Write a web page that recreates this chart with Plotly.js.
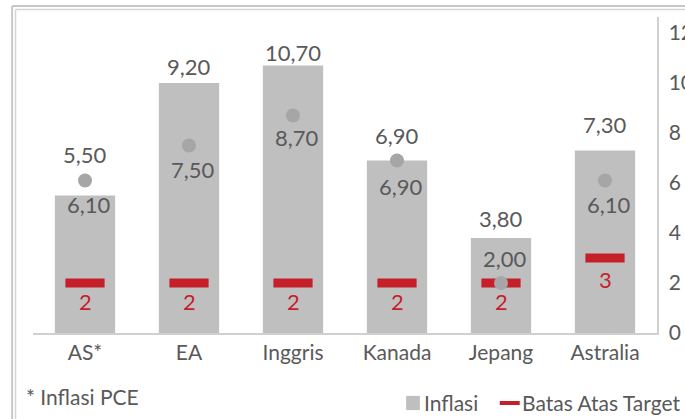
<!DOCTYPE html>
<html>
<head>
<meta charset="utf-8">
<script src="https://cdn.plot.ly/plotly-3.0.1.min.js"></script>
<style>html,body{margin:0;padding:0;background:#fff;}#chart{width:685px;height:419px;}</style>
</head>
<body>
<div id="chart"></div>
<script>
// ---- data ----
const categories = ['AS*', 'EA', 'Inggris', 'Kanada', 'Jepang', 'Astralia'];
const inflasi = [5.5, 10.0, 10.7, 6.9, 3.8, 7.3];            // bar heights as drawn
const inflasiLabels = ['5,50', '9,20', '10,70', '6,90', '3,80', '7,30']; // printed labels
const inflasiLain = [6.1, 7.5, 8.7, 6.9, 2.0, 6.1];          // grey dots
const batasAtas = [2, 2, 2, 2, 2, 3];                        // red dashes
const yTicks = [0, 2, 4, 6, 8, 10, 12];
const seriesNames = ['Inflasi', 'Batas Atas Target'];
const footnote = '* Inflasi PCE';

// ---- styles ----
const GREY_TXT = '#595959';
const BAR = '#BFBFBF';
const DOT = '#A6A6A6';
const RED = '#C51F2A';
const FONT = 'Lato, "Open Sans", sans-serif';
const barLabelShift = [41, 17, 13, 25, 20, 26];
const dotLabelShift = [-24, -24, -22, -26, 25, -24];
const redLabelShift = [-18, -18, -18, -18, -18, -21];

const fmt = v => v.toFixed(2).replace('.', ',');

const traces = [
  {type: 'bar', x: categories, y: inflasi, name: seriesNames[0], marker: {color: BAR}, width: 0.58, hoverinfo: 'none'},
  {type: 'scatter', mode: 'markers', x: categories, y: batasAtas, name: seriesNames[1],
   marker: {symbol: 'line-ew', size: 28, color: RED, line: {color: RED, width: 9}}, hoverinfo: 'none'},
  {type: 'scatter', mode: 'markers', x: categories, y: inflasiLain, marker: {color: DOT, size: 14, symbol: 'circle'}, hoverinfo: 'none'}
];

const annotations = [];
categories.forEach((c, i) => {
  annotations.push({x: c, y: inflasi[i], text: inflasiLabels[i], showarrow: false, yshift: barLabelShift[i],
    font: {family: FONT, size: 22, color: GREY_TXT}});
  annotations.push({x: c, y: inflasiLain[i], text: fmt(inflasiLain[i]), showarrow: false, yshift: dotLabelShift[i], xshift: 4,
    font: {family: FONT, size: 22, color: GREY_TXT}});
  annotations.push({x: c, y: batasAtas[i], text: String(batasAtas[i]), showarrow: false, yshift: redLabelShift[i],
    font: {family: FONT, size: 22, color: RED}});
});
// legend + footnote (drawn manually)
annotations.push({xref: 'paper', yref: 'paper', x: -0.0144, y: -0.2025, xanchor: 'left', yanchor: 'middle', text: footnote,
  showarrow: false, font: {family: FONT, size: 21, color: GREY_TXT}});
annotations.push({xref: 'paper', yref: 'paper', x: 0.623, y: -0.2215, xanchor: 'left', yanchor: 'middle', text: seriesNames[0],
  showarrow: false, font: {family: FONT, size: 21, color: GREY_TXT}});
annotations.push({xref: 'paper', yref: 'paper', x: 0.781, y: -0.2215, xanchor: 'left', yanchor: 'middle', text: seriesNames[1],
  showarrow: false, font: {family: FONT, size: 21, color: GREY_TXT}});

const shapes = [
  // outer double frame
  {type: 'line', xref: 'paper', yref: 'paper', x0: -0.0335, x1: -0.0335, y0: -0.3, y1: 1.035, line: {color: '#C8C8C8', width: 2}},
  {type: 'line', xref: 'paper', yref: 'paper', x0: -0.0335, x1: 1.1, y0: 1.035, y1: 1.035, line: {color: '#C8C8C8', width: 2}},
  {type: 'line', xref: 'paper', yref: 'paper', x0: -0.028, x1: -0.028, y0: -0.3, y1: 1.024, line: {color: '#D4D4D4', width: 1.5}},
  {type: 'line', xref: 'paper', yref: 'paper', x0: -0.028, x1: 1.1, y0: 1.024, y1: 1.024, line: {color: '#D4D4D4', width: 1.5}},
  // legend symbols
  {type: 'rect', xref: 'paper', yref: 'paper', x0: 0.598, x1: 0.620, y0: -0.244, y1: -0.199, fillcolor: BAR, line: {width: 0}},
  {type: 'line', xref: 'paper', yref: 'paper', x0: 0.748, x1: 0.780, y0: -0.2215, y1: -0.2215, line: {color: RED, width: 4}}
];

const layout = {
  width: 685, height: 419,
  margin: {l: 33, r: 28, t: 17, b: 86},
  paper_bgcolor: '#FFFFFF', plot_bgcolor: '#FFFFFF',
  showlegend: false,
  font: {family: FONT, color: GREY_TXT},
  xaxis: {type: 'category', range: [-0.5, 5.5], showline: true, linecolor: '#D0D0D0', linewidth: 1.5,
    ticks: '', showgrid: false, tickfont: {family: FONT, size: 21, color: GREY_TXT}, fixedrange: true},
  yaxis: {side: 'right', range: [0, 12.64], tickvals: yTicks, ticktext: yTicks.map(String), showline: true,
    linecolor: '#D0D0D0', linewidth: 1.5, ticks: '', showgrid: false, zeroline: false, ticklabelstandoff: 6,
    tickfont: {family: FONT, size: 21, color: GREY_TXT}, fixedrange: true},
  annotations: annotations,
  shapes: shapes
};

Plotly.newPlot('chart', traces, layout, {staticPlot: true, displayModeBar: false});
</script>
</body>
</html>
